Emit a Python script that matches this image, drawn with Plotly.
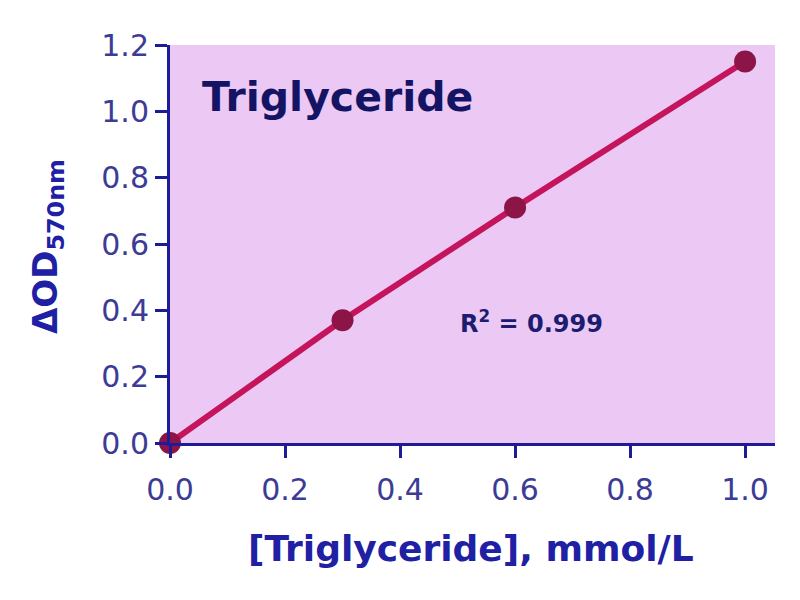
import plotly.graph_objects as go

conc = [0.0, 0.3, 0.6, 1.0]
od = [0.0, 0.37, 0.71, 1.15]
x_ticks = [0.0, 0.2, 0.4, 0.6, 0.8, 1.0]
y_ticks = [0.0, 0.2, 0.4, 0.6, 0.8, 1.0, 1.2]
title_text = "Triglyceride"
r2_text = "R<sup>2</sup> = 0.999"
x_title = "[Triglyceride], mmol/L"
y_title = "ΔOD<sub>570nm</sub>"

FONT = "DejaVu Sans, sans-serif"
AXIS = "#1c1c96"
TICKC = "#3c3c96"
TITLEC = "#2020a4"

OFF = 8  # page body offset
L, T, R, B = 162, 37, 33, 165
PW, PH = 800 - L - R, 600 - T - B


def paper(sx, sy):
    fx, fy = sx - OFF, sy - OFF
    return (fx - L) / PW, 1 - (fy - T) / PH


fig = go.Figure()
fig.add_trace(go.Scatter(
    x=conc, y=od, mode="lines+markers",
    line=dict(color="#c4145c", width=6),
    marker=dict(color="#8c1446", size=22),
    cliponaxis=False, showlegend=False,
))

axis_common = dict(
    showgrid=False, zeroline=False, showline=True, linecolor=AXIS, linewidth=3,
    ticks="outside", ticklen=12, tickwidth=3, tickcolor=AXIS,
    tickfont=dict(size=30, color=TICKC, family=FONT),
)

fig.update_layout(
    width=800, height=600,
    margin=dict(l=L, r=R, t=T, b=B),
    paper_bgcolor="white",
    plot_bgcolor="#ecc8f4",
    font=dict(family=FONT),
    xaxis=dict(range=[0, 1.052], tickvals=x_ticks, ticklabelstandoff=6,
               ticktext=[f"{v:.1f}" for v in x_ticks], **axis_common),
    yaxis=dict(range=[0, 1.2], tickvals=y_ticks,
               ticktext=[f"{v:.1f}" for v in y_ticks], **axis_common),
)

ax, ay = paper(200, 97)
fig.add_annotation(text=f"<b>{title_text}</b>", x=ax, y=ay, xref="paper", yref="paper",
                   xanchor="left", yanchor="middle", showarrow=False,
                   font=dict(size=41, color="#141464", family=FONT))
ax, ay = paper(458, 322)
fig.add_annotation(text=f"<b>{r2_text}</b>", x=ax, y=ay, xref="paper", yref="paper",
                   xanchor="left", yanchor="middle", showarrow=False,
                   font=dict(size=24, color="#1c1c70", family=FONT))
ax, ay = paper(471, 548)
fig.add_annotation(text=f"<b>{x_title}</b>", x=ax, y=ay, xref="paper", yref="paper",
                   xanchor="center", yanchor="middle", showarrow=False,
                   font=dict(size=36, color=TITLEC, family=FONT))
ax, ay = paper(47, 247)
fig.add_annotation(text=f"<b>{y_title}</b>", x=ax, y=ay, xref="paper", yref="paper",
                   xanchor="center", yanchor="middle", showarrow=False, textangle=-90,
                   font=dict(size=34, color=TITLEC, family=FONT))

fig.write_html("out.html")
